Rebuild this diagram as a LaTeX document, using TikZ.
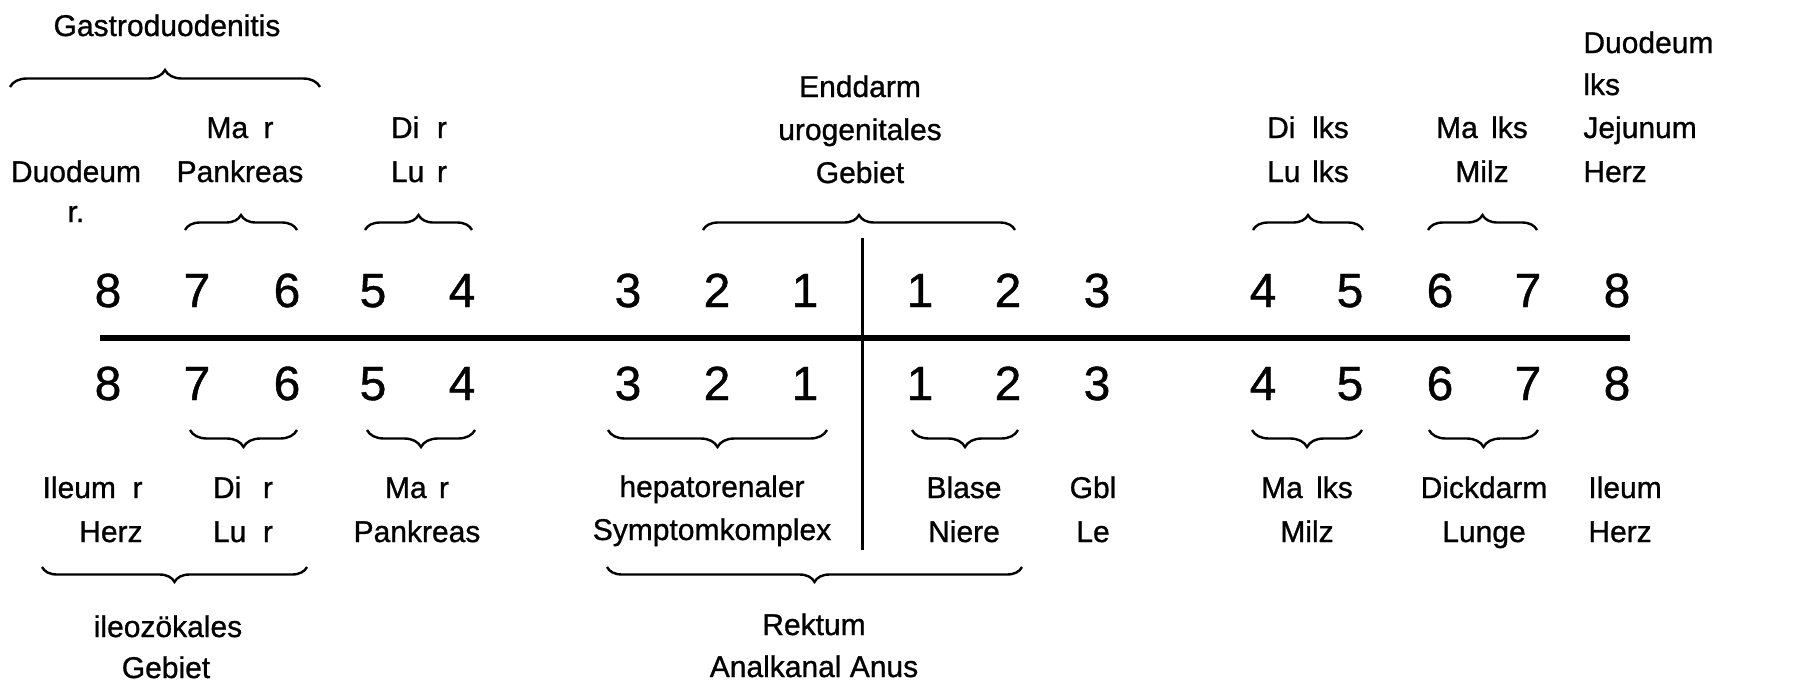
\documentclass[tikz,border=0pt]{standalone}
\usepackage{fontspec}
\setmainfont{Liberation Sans}[FakeBold=0.9]
\usetikzlibrary{decorations.pathreplacing}
\begin{document}
\begin{tikzpicture}[x=0.5pt,y=-0.5pt,
  lbl/.style={anchor=base,inner sep=0pt,font=\fontsize{15}{18}\selectfont},
  lblw/.style={lbl,anchor=base west},
  lble/.style={lbl,anchor=base east},
  num/.style={anchor=base,inner sep=0pt,font=\fontsize{24}{28}\selectfont},
  brc/.style={decorate,decoration={brace,amplitude=#1},line width=1.2pt},
  brc/.default=7.5pt]
\useasboundingbox (0,0) rectangle (1799,681);

% axis
\coordinate (axL) at (100,338);
\coordinate (axR) at (1630,338);
\coordinate (vT) at (862,238);
\coordinate (vB) at (862,550);
\draw[line width=3pt] (axL) -- (axR);
\draw[line width=1.5pt] (vT) -- (vB);

% numbers
\foreach \x/\n [count=\i] in {108/8,197/7,287/6,373/5,462/4,628/3,717/2,805/1,920/1,1008/2,1097/3,1263/4,1350/5,1440/6,1528/7,1617/8}{
  \node[num] (t\i) at (\x,307) {\n};
  \node[num] (b\i) at (\x,400) {\n};
}

% top labels
\node[lbl] (gastro) at (167,36) {Gastroduodenitis};
\node[lbl] (duoRa) at (76,182) {Duodeum};
\node[lbl] (duoRb) at (76,222) {r.};
\node[lbl] (maRa) at (240,138) {\makebox[28.5pt][l]{Ma}r};
\node[lbl] (maRb) at (240,182) {Pankreas};
\node[lbl] (diRa) at (419,138) {\makebox[23pt][l]{Di}r};
\node[lbl] (diRb) at (419,182) {\makebox[23pt][l]{Lu}r};
\node[lbl] (endA) at (860,97) {Enddarm};
\node[lbl] (endB) at (860,140) {urogenitales};
\node[lbl] (endC) at (860,183) {Gebiet};
\node[lbl] (diLa) at (1308,138) {\makebox[22.5pt][l]{Di}lks};
\node[lbl] (diLb) at (1308,182) {\makebox[22.5pt][l]{Lu}lks};
\node[lbl] (maLa) at (1482,138) {\makebox[27.5pt][l]{Ma}lks};
\node[lbl] (maLb) at (1482,182) {Milz};
\node[lblw] (duoLa) at (1583,53) {Duodeum};
\node[lblw] (duoLb) at (1583,95) {lks};
\node[lblw] (duoLc) at (1583,138) {Jejunum};
\node[lblw] (duoLd) at (1583,182) {Herz};

% bottom labels
\node[lble] (ilRa) at (143,498) {\makebox[45pt][l]{Ileum}r};
\node[lble] (ilRb) at (143,542) {Herz};
\node[lbl] (bdiRa) at (243,498) {\makebox[25pt][l]{Di}r};
\node[lbl] (bdiRb) at (243,542) {\makebox[25pt][l]{Lu}r};
\node[lbl] (bmaRa) at (417,498) {\makebox[27pt][l]{Ma}r};
\node[lbl] (bmaRb) at (417,542) {Pankreas};
\node[lbl] (ileoA) at (168,637) {ileozökales};
\node[lbl] (ileoB) at (166,678) {Gebiet};
\node[lbl] (hepA) at (712,497) {hepatorenaler};
\node[lbl] (hepB) at (712,540) {Symptomkomplex};
\node[lbl] (blA) at (964,498) {Blase};
\node[lbl] (blB) at (964,542) {Niere};
\node[lbl] (gbA) at (1093,498) {Gbl};
\node[lbl] (gbB) at (1093,542) {Le};
\node[lbl] (rekA) at (814,635) {Rektum};
\node[lbl] (rekB) at (814,677) {Analkanal Anus};
\node[lbl] (bmaLa) at (1307,498) {\makebox[27.5pt][l]{Ma}lks};
\node[lbl] (bmaLb) at (1307,542) {Milz};
\node[lbl] (dkA) at (1484,498) {Dickdarm};
\node[lbl] (dkB) at (1484,542) {Lunge};
\node[lblw] (ilLa) at (1588,498) {Ileum};
\node[lblw] (ilLb) at (1588,542) {Herz};

% top braces
\draw[brc=8.5pt] (10,87) -- (320,87);
\draw[brc] (185,230) -- (297,230);
\draw[brc] (365,230) -- (472,230);
\draw[brc] (703,230) -- (1015,230);
\draw[brc] (1253,230) -- (1363,230);
\draw[brc] (1428,230) -- (1537,230);

% bottom braces
\draw[brc=8.5pt] (297,430) -- (190,430);
\draw[brc=8.5pt] (475,430) -- (367,430);
\draw[brc=8.5pt] (827,430) -- (608,430);
\draw[brc=8.5pt] (1018,430) -- (912,430);
\draw[brc=8.5pt] (1362,430) -- (1252,430);
\draw[brc=8.5pt] (1538,430) -- (1429,430);
\draw[brc] (307,567) -- (42,567);
\draw[brc] (1022,567) -- (607,567);
\end{tikzpicture}
\end{document}
